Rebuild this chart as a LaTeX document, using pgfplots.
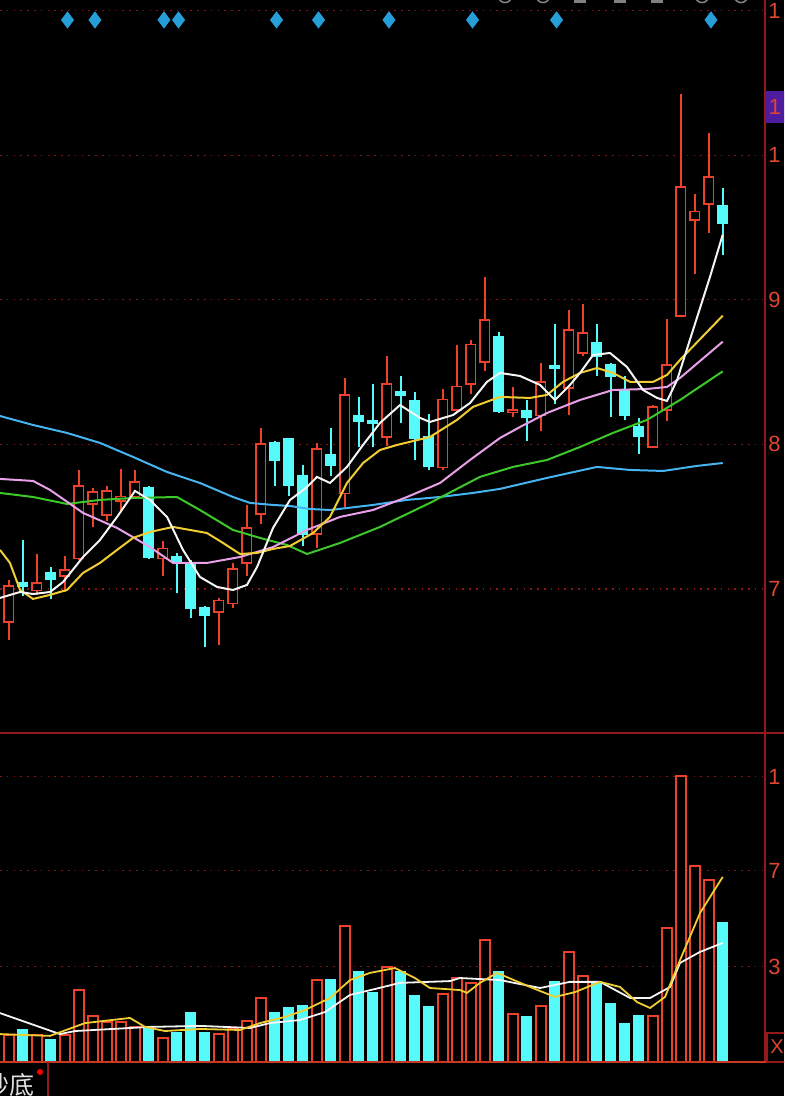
\documentclass[border=0pt]{standalone}
\usepackage{fontspec}
\setmainfont{Liberation Sans}
\newfontfamily\cjk{Noto Sans CJK SC}
\usepackage{pgfplots}
\pgfplotsset{compat=1.18}
\definecolor{cred}{RGB}{236,66,42}
\definecolor{ccyan}{RGB}{86,250,250}
\definecolor{lblred}{RGB}{222,70,50}
\definecolor{gridred}{RGB}{135,22,22}
\definecolor{axred}{RGB}{150,25,25}
\definecolor{ma5}{RGB}{245,245,245}
\definecolor{ma10}{RGB}{240,205,50}
\definecolor{ma20}{RGB}{232,160,232}
\definecolor{ma30}{RGB}{60,200,40}
\definecolor{ma60}{RGB}{70,180,240}
\definecolor{diam}{RGB}{38,158,215}
\definecolor{purp}{RGB}{78,28,158}
\pgfplotsset{
  up/.style={draw=cred, fill=black, line width=0.9pt, line join=miter, solid, mark=none},
  dn/.style={draw=ccyan, fill=ccyan, line width=0.9pt, line join=miter, solid, mark=none},
  darkstyle/.style={
    scale only axis, width=382.5pt,
    xmin=-0.621, xmax=54.02,
    axis line style={draw=none},
    xtick=\empty,
    yticklabel pos=right,
    ytick style={draw=none},
    ymajorgrids,
    grid style={gridred, dash pattern=on 0.8pt off 2.6pt, line width=0.6pt},
    yticklabel style={text=lblred, font=\fontsize{11}{12}\selectfont, inner sep=0pt, anchor=west, xshift=1.5pt},
  },
}
% candle: index, open, high, low, close
\newcommand{\candle}[6]{%
  \pgfmathsetmacro\xl{#2-0.34}\pgfmathsetmacro\xr{#2+0.34}%
  \edef\tmp{%
    \noexpand\addplot[#1, mark=none] coordinates {(#2,#5) (#2,#4)};
    \noexpand\addplot[#1] coordinates {(\xl,#3) (\xr,#3) (\xr,#6) (\xl,#6)} -- cycle;
  }\tmp}
\newcommand{\cu}[5]{\candle{up}{#1}{#2}{#3}{#4}{#5}}
\newcommand{\cd}[5]{\candle{dn}{#1}{#2}{#3}{#4}{#5}}
\begin{document}
\begin{tikzpicture}
\useasboundingbox (0,0) rectangle (392pt,548pt);
\clip (0,0) rectangle (392pt,548pt);
\fill[black] (0,0) rectangle (392pt,548pt);

% ---------------- price panel ----------------
\begin{axis}[darkstyle,
  at={(0pt,181.5pt)}, anchor=south west, height=366.5pt,
  ymin=6.004, ymax=11.073,
  ytick={7,8,9,10,11}, yticklabels={7,8,9,1,1},
]
\cu{0}{6.77}{7.06}{6.65}{7.02}
\cd{1}{7.04}{7.34}{6.95}{7.02}
\cu{2}{6.99}{7.24}{6.96}{7.04}
\cd{3}{7.11}{7.15}{6.93}{7.07}
\cu{4}{7.09}{7.23}{6.98}{7.13}
\cu{5}{7.21}{7.82}{7.20}{7.71}
\cu{6}{7.59}{7.70}{7.43}{7.67}
\cu{7}{7.51}{7.71}{7.47}{7.68}
\cu{8}{7.61}{7.83}{7.53}{7.64}
\cu{9}{7.64}{7.82}{7.63}{7.74}
\cd{10}{7.70}{7.71}{7.21}{7.22}
\cu{11}{7.21}{7.33}{7.09}{7.28}
\cd{12}{7.22}{7.25}{6.97}{7.19}
\cd{13}{7.17}{7.20}{6.80}{6.87}
\cd{14}{6.87}{6.88}{6.60}{6.82}
\cu{15}{6.84}{6.94}{6.61}{6.92}
\cu{16}{6.90}{7.18}{6.87}{7.14}
\cu{17}{7.18}{7.58}{7.09}{7.42}
\cu{18}{7.52}{8.11}{7.45}{8.00}
\cd{19}{8.01}{8.02}{7.71}{7.89}
\cd{20}{8.04}{8.04}{7.64}{7.72}
\cd{21}{7.78}{7.86}{7.30}{7.38}
\cu{22}{7.38}{8.01}{7.28}{7.97}
\cd{23}{7.93}{8.11}{7.78}{7.86}
\cu{24}{7.66}{8.46}{7.57}{8.34}
\cd{25}{8.20}{8.33}{7.98}{8.16}
\cd{26}{8.16}{8.42}{7.98}{8.15}
\cu{27}{8.05}{8.61}{7.99}{8.42}
\cd{28}{8.36}{8.47}{8.15}{8.34}
\cd{29}{8.30}{8.36}{7.89}{8.04}
\cd{30}{8.05}{8.21}{7.82}{7.85}
\cu{31}{7.84}{8.38}{7.82}{8.31}
\cu{32}{8.24}{8.69}{8.22}{8.40}
\cu{33}{8.42}{8.72}{8.35}{8.69}
\cu{34}{8.57}{9.16}{8.51}{8.86}
\cd{35}{8.74}{8.78}{8.22}{8.23}
\cu{36}{8.22}{8.40}{8.19}{8.24}
\cd{37}{8.23}{8.31}{8.02}{8.19}
\cu{38}{8.20}{8.56}{8.09}{8.43}
\cd{39}{8.54}{8.83}{8.28}{8.53}
\cu{40}{8.39}{8.93}{8.20}{8.79}
\cu{41}{8.63}{8.97}{8.61}{8.77}
\cd{42}{8.70}{8.83}{8.47}{8.61}
\cd{43}{8.55}{8.56}{8.19}{8.47}
\cd{44}{8.38}{8.47}{8.17}{8.20}
\cd{45}{8.12}{8.18}{7.93}{8.06}
\cu{46}{7.98}{8.27}{7.98}{8.26}
\cu{47}{8.24}{8.87}{8.16}{8.55}
\cu{48}{8.89}{10.42}{8.89}{9.78}
\cu{49}{9.55}{9.73}{9.18}{9.61}
\cu{50}{9.66}{10.15}{9.46}{9.85}
\cd{51}{9.65}{9.77}{9.31}{9.53}

% MA60 (blue)
\addplot[ma60, line width=1pt, mark=none] coordinates {(-0.62,8.196) (1.74,8.134) (4.16,8.079) (6.52,8.010) (8.88,7.913) (11.31,7.809) (13.66,7.733) (16.02,7.636) (17.24,7.595) (18.88,7.581) (20.09,7.574) (21.52,7.553) (22.95,7.546) (26.02,7.581) (28.45,7.616) (30.81,7.636) (33.16,7.664) (35.09,7.692) (38.45,7.768) (42.02,7.844) (44.38,7.823) (46.74,7.816) (49.16,7.851) (51,7.871)};
% MA30 (green)
\addplot[ma30, line width=1pt, mark=none] coordinates {(-0.62,7.664) (1.74,7.636) (4.16,7.588) (6.52,7.616) (8.88,7.629) (12.02,7.636) (13.66,7.546) (16.02,7.408) (17.95,7.353) (19.88,7.304) (21.31,7.242) (23.66,7.318) (26.52,7.429) (30.09,7.595) (33.66,7.775) (36.02,7.844) (38.45,7.892) (40.81,7.982) (43.16,8.079) (45.59,8.169) (47.95,8.307) (51,8.505)};
% MA20 (pink)
\addplot[ma20, line width=1pt, mark=none] coordinates {(-0.62,7.761) (1.74,7.747) (2.95,7.685) (5.31,7.526) (7.74,7.422) (10.09,7.290) (11.74,7.180) (14.16,7.180) (16.52,7.221) (18.88,7.290) (21.31,7.408) (23.66,7.498) (26.02,7.546) (28.45,7.636) (30.81,7.733) (32.95,7.892) (35.09,8.044) (36.52,8.120) (38.45,8.217) (40.81,8.307) (43.16,8.376) (45.59,8.383) (47.02,8.397) (47.95,8.459) (51,8.71)};
% MA10 (yellow)
\addplot[ma10, line width=1pt, mark=none] coordinates {(-0.62,7.270) (0.09,7.180) (0.81,6.993) (1.74,6.931) (2.95,6.959) (4.16,6.993) (5.31,7.111) (6.52,7.180) (7.74,7.270) (8.88,7.353) (10.09,7.394) (11.74,7.429) (14.16,7.387) (15.31,7.318) (16.52,7.242) (17.74,7.249) (18.88,7.277) (20.09,7.297) (21.74,7.387) (22.95,7.498) (24.16,7.733) (25.31,7.871) (26.52,7.961) (27.74,7.996) (30.09,8.051) (32.02,8.169) (33.16,8.259) (35.09,8.328) (37.24,8.321) (38.45,8.342) (39.59,8.432) (40.81,8.494) (42.02,8.528) (43.16,8.494) (44.38,8.432) (46.02,8.432) (47.02,8.480) (47.95,8.584) (51,8.89)};
% MA5 (white)
\addplot[ma5, line width=1pt, mark=none] coordinates {(-0.62,6.938) (0.81,6.979) (1.74,6.965) (2.95,6.979) (3.88,7.048) (5.31,7.221) (6.52,7.339) (7.74,7.498) (9.02,7.678) (10.09,7.615) (11.31,7.498) (12.45,7.270) (13.66,7.083) (14.88,7.014) (16.02,6.993) (17.02,7.028) (17.74,7.152) (18.88,7.422) (20.09,7.615) (21.31,7.705) (22.02,7.775) (22.95,7.733) (24.16,7.844) (25.31,7.996) (26.52,8.148) (27.95,8.272) (29.38,8.183) (30.09,8.155) (31.74,8.203) (32.95,8.286) (34.16,8.432) (35.09,8.494) (36.52,8.473) (37.95,8.411) (39.02,8.307) (40.09,8.411) (40.81,8.494) (41.74,8.618) (42.95,8.632) (44.16,8.535) (45.31,8.376) (46.31,8.321) (47.02,8.300) (47.74,8.445) (48.88,8.791) (50.09,9.158) (51,9.45)};
% signal diamonds
\addplot[only marks, mark=diamond*, mark size=4pt, color=diam] coordinates {(4.2,10.935) (6.16,10.935) (11.09,10.935) (12.13,10.935) (19.13,10.935) (22.13,10.935) (27.16,10.935) (33.13,10.935) (39.13,10.935) (50.16,10.935)};
\end{axis}

% ---------------- volume panel ----------------
\begin{axis}[darkstyle,
  at={(0pt,17pt)}, anchor=south west, height=164.5pt,
  ymin=0, ymax=128.5,
  ytick={37.2,74.7,111.4}, yticklabels={3,7,1},
]
\addplot[ybar, bar shift=0pt, bar width=0.72, draw=cred, fill=black, line width=0.9pt] coordinates {(0,10.5) (2,10.5) (4,10.5) (5,28.1) (6,18.0) (7,15.6) (8,15.6) (9,13.7) (11,9.4) (15,10.9) (16,13.3) (17,16.0) (18,25.0) (22,32.0) (24,53.1) (27,37.1) (31,26.6) (32,32.8) (33,30.9) (34,47.7) (36,18.8) (38,21.9) (40,43.0) (41,33.6) (46,18.0) (47,52.3) (48,111.7) (49,76.6) (50,71.1)};
\addplot[ybar, bar shift=0pt, bar width=0.72, draw=ccyan, fill=ccyan, line width=0.5pt] coordinates {(1,12.5) (3,8.6) (10,13.7) (12,11.7) (13,19.5) (14,11.7) (19,19.5) (20,21.1) (21,21.9) (23,32.4) (25,35.2) (26,27.0) (28,35.2) (29,25.8) (30,21.5) (35,35.2) (37,17.6) (39,31.3) (42,31.3) (43,23.0) (44,15.2) (45,18.0) (51,54.3)};
% volume MA (white)
\addplot[ma5, line width=0.9pt, mark=none] coordinates {(-0.62,19.1) (3.66,10.9) (4.74,12.1) (10.09,13.7) (13.66,14.1) (17.24,13.3) (18.66,15.2) (20.81,16.4) (22.59,19.5) (24.38,26.2) (26.16,28.5) (27.95,30.9) (31.52,31.6) (32.23,32.8) (35.09,32.0) (37.95,28.9) (40.09,31.3) (42.24,31.3) (44.38,25.0) (45.81,25.0) (47.24,29.3) (47.95,38.7) (49.38,43.0) (51,46.5)};
% volume MA (yellow)
\addplot[ma10, line width=0.9pt, mark=none] coordinates {(-0.62,10.9) (2.95,10.2) (5.45,15.2) (8.66,17.2) (9.74,13.7) (11.16,12.1) (13.66,12.9) (16.52,12.5) (17.95,15.2) (19.74,17.6) (21.16,20.3) (22.95,25.0) (24.38,32.0) (25.81,34.8) (27.59,36.7) (29.02,32.8) (30.09,28.9) (32.23,28.1) (32.74,27.0) (33.66,30.9) (34.88,34.8) (37.24,29.3) (39.02,25.4) (40.45,27.3) (42.24,31.3) (43.66,29.3) (44.88,23.4) (45.81,21.1) (46.88,25.4) (47.95,39.8) (49.38,58.2) (51,72.3)};
\end{axis}

% ---------------- frame and decorations ----------------
\draw[axred, line width=0.8pt] (382.5pt,17pt) -- (382.5pt,548pt);
\draw[axred, line width=0.8pt] (0pt,181.5pt) -- (392pt,181.5pt);
\draw[cred!85!black, line width=1pt] (0pt,17pt) -- (392pt,17pt);
\draw[axred, line width=0.8pt] (24pt,0pt) -- (24pt,17pt);
% price tag box
\node[fill=purp, minimum width=12pt, minimum height=16pt, inner sep=0pt, anchor=west,
      text=lblred, font=\fontsize{11}{12}\selectfont] at (382.3pt,494.5pt) {\hspace*{-2pt}1};
% unit box
\draw[axred, line width=0.8pt] (383.5pt,17pt) rectangle (396pt,31.5pt);
\node[text=lblred, font=\fontsize{10}{11}\selectfont, inner sep=0pt] at (388.5pt,24.5pt) {X};
% bottom-left label
\node[anchor=east, inner sep=0pt, text=black!12, font=\cjk\fontsize{12.5}{13}\selectfont] at (17.5pt,5.5pt) {抄底};
\fill[red] (20pt,12pt) circle (1.5pt);
% partial toolbar icons at the top edge
\foreach \xx in {252.5,271.5,351,370.5} {\draw[gray, line width=0.8pt] (\xx pt,550pt) circle (3.3pt);}
\foreach \xx in {290,310,328.5} {\fill[gray] (\xx pt - 3pt,546.5pt) rectangle (\xx pt + 3pt,548pt);}
\end{tikzpicture}
\end{document}
